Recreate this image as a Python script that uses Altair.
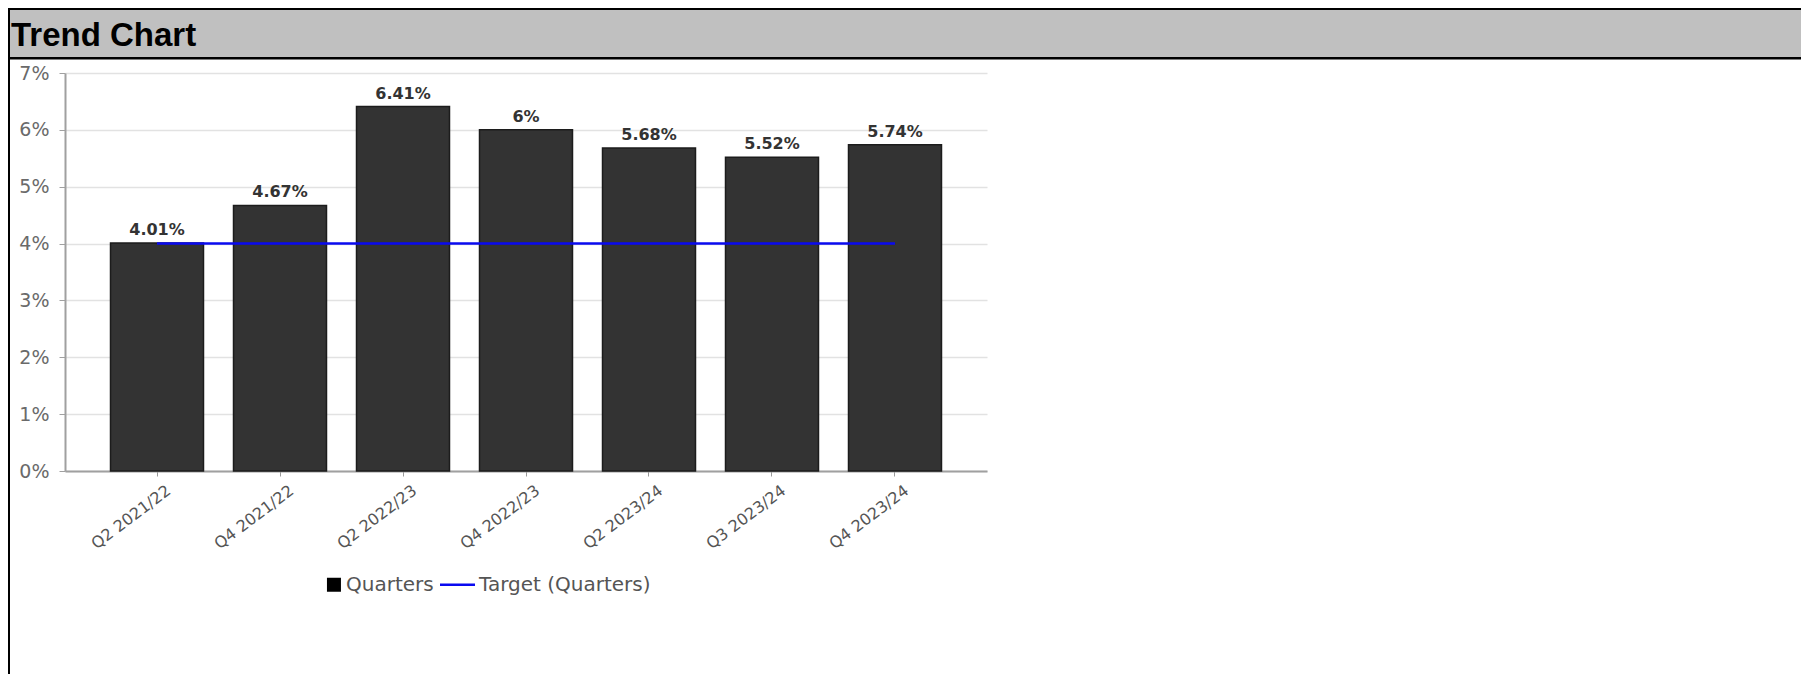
import altair as alt
import pandas as pd

quarters = ["Q2 2021/22", "Q4 2021/22", "Q2 2022/23", "Q4 2022/23",
            "Q2 2023/24", "Q3 2023/24", "Q4 2023/24"]
values = [4.01, 4.67, 6.41, 6.00, 5.68, 5.52, 5.74]
value_labels = ["4.01%", "4.67%", "6.41%", "6%", "5.68%", "5.52%", "5.74%"]
target = [4, 4, 4, 4, 4, 4, 4]
series = ["Quarters", "Target (Quarters)"]
title_text = ["Trend Chart"]

df = pd.DataFrame({"quarter": quarters, "value": values,
                   "label": value_labels, "target": target})

W, H = 922, 398
x_enc = alt.X("quarter:N", sort=quarters,
              scale=alt.Scale(paddingInner=0.244, paddingOuter=0.37),
              axis=alt.Axis(title=None, labelAngle=-37, labelAlign="right",
                            labelBaseline="top", labelFontSize=16,
                            labelColor="#555555", labelPadding=6,
                            labelOffset=7,
                            tickSize=5, tickColor="#999999",
                            domainColor="#a0a0a0", domainWidth=2, grid=False))
y_scale = alt.Scale(domain=[0, 7], nice=False)

bars = alt.Chart(df).mark_bar(fill="#333333", stroke="#1c1c1c",
                              strokeWidth=1.5).encode(
    x=x_enc,
    y=alt.Y("value:Q", scale=y_scale,
            axis=alt.Axis(title=None, values=list(range(8)),
                          labelExpr="datum.value + '%'", labelFontSize=19,
                          labelColor="#6a6a6a", labelPadding=10, tickSize=6,
                          tickColor="#a0a0a0", domainColor="#a0a0a0",
                          domainWidth=2, gridColor="#e2e2e2", gridWidth=1.5)),
)

texts = alt.Chart(df).mark_text(baseline="bottom", dy=-5, fontSize=16,
                                fontWeight="bold", color="#333333",
                                font="DejaVu Sans").encode(
    x=alt.X("quarter:N", sort=quarters),
    y=alt.Y("value:Q", scale=y_scale),
    text="label:N",
)

line = alt.Chart(df).mark_line(color="#0a0af0", strokeWidth=2.5).encode(
    x=alt.X("quarter:N", sort=quarters),
    y=alt.Y("target:Q", scale=y_scale),
)

sq_path = "M0.14,-0.4H0.94V0.4H0.14Z"
ln_path = "M-1,-0.065H1V0.065H-1Z"
# legend source: its own points sit hidden underneath the title bar
legend_layer = alt.Chart(pd.DataFrame({"series": series})).mark_point(
    filled=True, opacity=1).encode(
    x=alt.value(400), y=alt.value(-40),
    color=alt.Color("series:N",
                    scale=alt.Scale(domain=series, range=["#000000", "#0a0af0"]),
                    legend=alt.Legend(title=None, orient="none", legendX=242,
                                      legendY=494, direction="horizontal",
                                      symbolSize=1225, symbolOpacity=1,
                                      symbolStrokeWidth=0, labelOffset=4,
                                      columnPadding=6, labelFontSize=20,
                                      labelColor="#555555", padding=0,
                                      labelLimit=400,
                                      labelFont="DejaVu Sans")),
    shape=alt.Shape("series:N",
                    scale=alt.Scale(domain=series, range=[sq_path, ln_path]),
                    legend=alt.Legend(title=None)),
)

# frame decorations (page furniture around the chart)
deco = pd.DataFrame({"t": title_text})
RIGHT = 1736
bar_bg = alt.Chart(deco).mark_rect(fill="#c0c0c0").encode(
    x=alt.value(-55), x2=alt.value(RIGHT), y=alt.value(-63), y2=alt.value(-16))
top_line = alt.Chart(deco).mark_rect(fill="#000000").encode(
    x=alt.value(-57), x2=alt.value(RIGHT), y=alt.value(-65), y2=alt.value(-63))
under_line = alt.Chart(deco).mark_rect(fill="#000000").encode(
    x=alt.value(-57), x2=alt.value(RIGHT), y=alt.value(-16), y2=alt.value(-13.5))
left_line = alt.Chart(deco).mark_rect(fill="#000000").encode(
    x=alt.value(-57), x2=alt.value(-55), y=alt.value(-65), y2=alt.value(601))
title = alt.Chart(deco).mark_text(align="left", baseline="alphabetic",
                                  font="Liberation Sans", fontWeight="bold",
                                  fontSize=33, color="#000000").encode(
    x=alt.value(-54), y=alt.value(-27), text="t:N")

chart = alt.layer(legend_layer, bar_bg, top_line, under_line, left_line, title,
                  bars, line, texts).properties(
    width=W, height=H,
    autosize=alt.AutoSizeParams(type="none"),
    padding={"left": 57, "top": 65, "right": 814, "bottom": 203},
).configure_view(stroke="transparent").configure_axis(
    labelFont="DejaVu Sans"
)

chart.save("out.html", embed_options={"renderer": "svg", "actions": False})
